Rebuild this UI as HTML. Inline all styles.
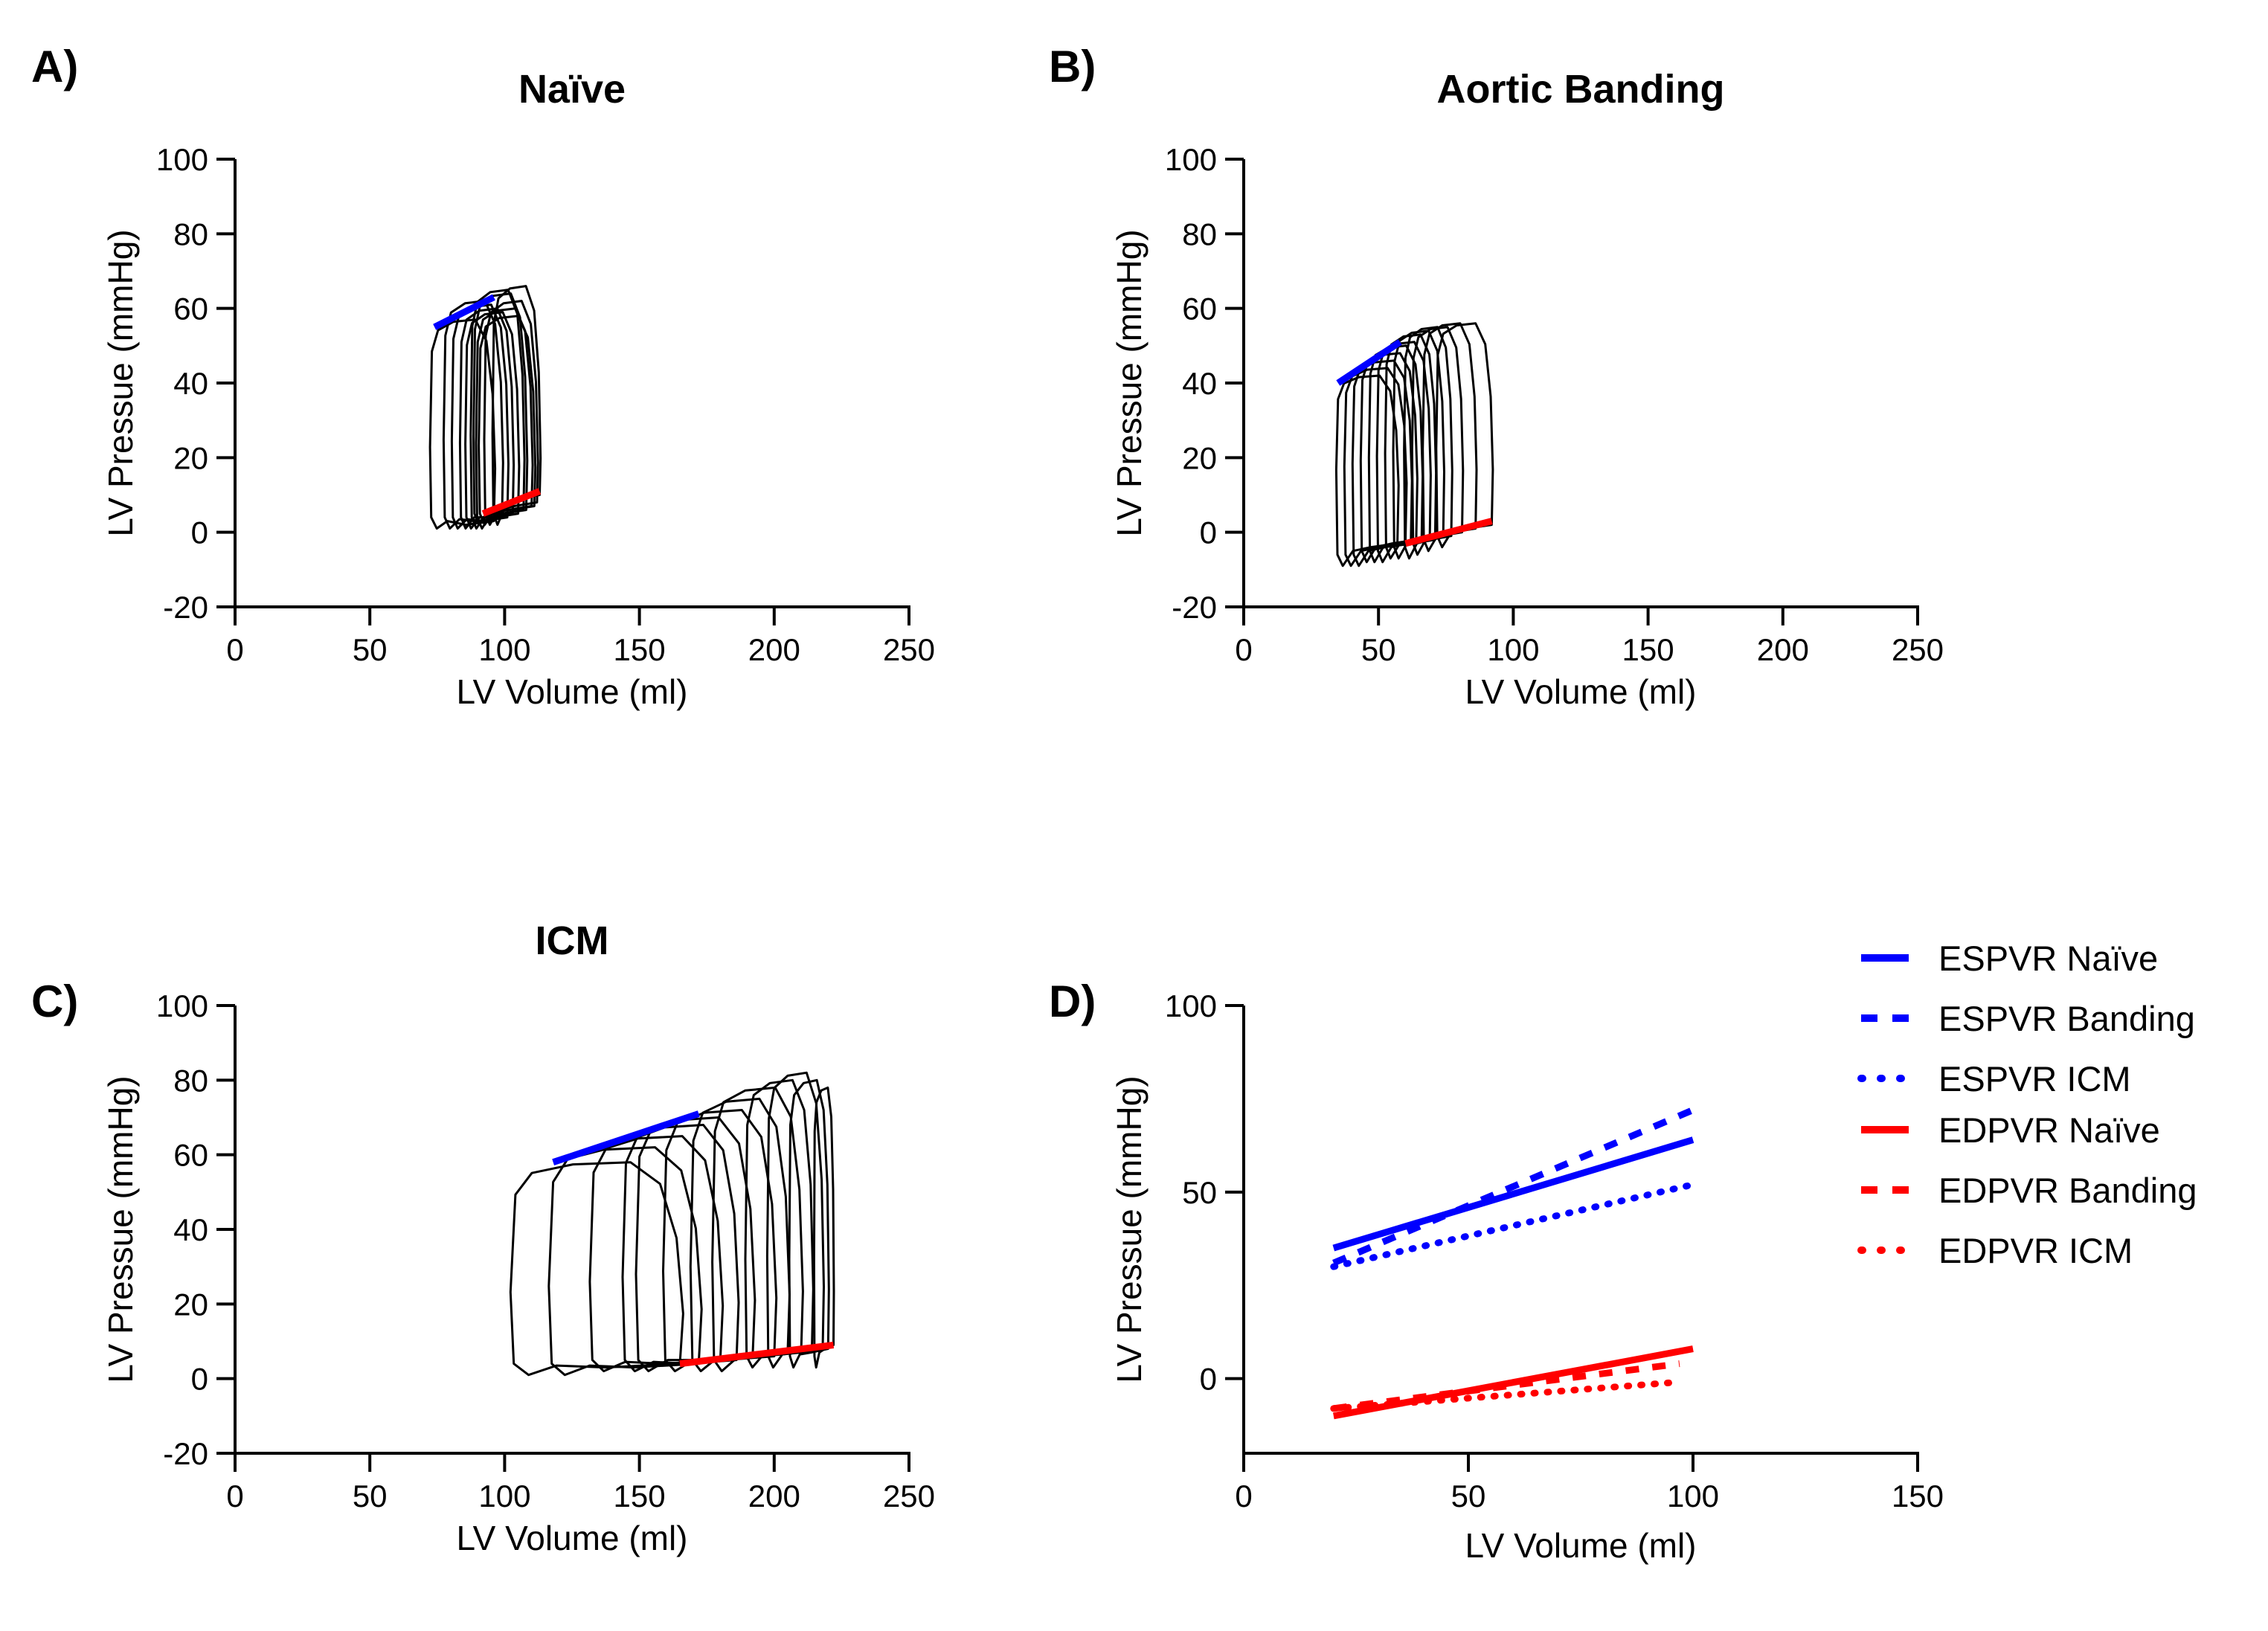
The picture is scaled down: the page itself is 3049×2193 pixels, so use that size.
<!DOCTYPE html>
<html><head><meta charset="utf-8"><style>
html,body{margin:0;padding:0;background:#fff}
svg{display:block;font-family:"Liberation Sans",Arial,sans-serif}
</style></head><body>
<svg id="fig" width="3049" height="2193" viewBox="0 0 3049 2193" xmlns="http://www.w3.org/2000/svg">
<rect width="3049" height="2193" fill="#fff"/>
</svg>
<script>
// ---- Panel A (Naive) loop data ----
const naiveEsv=[73,78,81,84,86,88,89,90,91,93,96];
const naiveEdv=[96,99,101,103,105,107,108,110,111,112,113];
const naivePmax=[57,62,61,60,59,65,64,60,58,62,66];
const naiveEdp=[3,4,4,5,5,6,6,7,7,8,10];
const naivePmin=[1,1,1,1,1,1,2,1,2,2,2];
// ---- Panel B (Banding) ----
const bandEsv=[35,38,41,44,47,50,53,56,60,63,67,72];
const bandEdv=[57,60,62,64,66,69,71,74,77,81,86,92];
const bandPmax=[42,44,46,48,50,51,53,54,55,55,56,56];
const bandEdp=[-3,-3,-3,-2,-2,-2,-2,-1,-1,0,1,2];
const bandPmin=[-9,-9,-9,-8,-8,-8,-7,-7,-7,-6,-5,-4];
// ---- Panel C (ICM) ----
const icmEsv=[104,118,133,145,150,160,170,178,190,198,206,215];
const icmEdv=[165,172,180,186,192,200,205,210,214,218,220,222];
const icmPmax=[58,62,65,68,70,72,75,78,80,82,80,78];
const icmEdp=[4,4,5,5,6,6,7,7,8,8,8,9];
const icmPmin=[1,1,2,2,2,2,2,2,3,3,3,3];
// ---- relation lines [v1,p1,v2,p2] ----
const espvrA=[74,55,96,63], edpvrA=[92,5,113,11];
const espvrB=[35,40,58,51], edpvrB=[60,-3,92,3];
const espvrC=[118,58,172,71], edpvrC=[165,4,222,9];
// ---- Panel D relations ----
const dNames=["ESPVR Naïve","ESPVR Banding","ESPVR ICM","EDPVR Naïve","EDPVR Banding","EDPVR ICM"];
const dV1=[20,20,20,20,20,20];
const dP1=[35,31,30,-10,-8,-8];
const dV2=[100,100,100,100,97,96];
const dP2=[64,72,52,8,4,-1];
const dColors=["#0000ff","#0000ff","#0000ff","#ff0000","#ff0000","#ff0000"];
const dDash=["","18,18","2,16","","18,18","2,16"];
const xTicksA=[0,50,100,150,200,250];
const yTicksA=[-20,0,20,40,60,80,100];
const xTicksD=[0,50,100,150];
const yTicksD=[0,50,100];

const NS="http://www.w3.org/2000/svg";
const svg=document.getElementById('fig');
function el(tag,attrs,parent,text){const e=document.createElementNS(NS,tag);for(const k in attrs)e.setAttribute(k,attrs[k]);if(text!==undefined)e.textContent=text;(parent||svg).appendChild(e);return e;}

function makePanel(p){
  const g=el('g',{});
  
  
  const sx=v=>p.x0+(v-p.xmin)/(p.xmax-p.xmin)*(p.x1-p.x0);
  const sy=v=>p.yb+(v-p.ymin)/(p.ymax-p.ymin)*(p.yt-p.yb);
  const yax=el('line',{x1:p.x0,y1:p.yt,x2:p.x0,y2:p.yb+2,stroke:'#000','stroke-width':4},g);
  
  
  const xax=el('line',{x1:p.x0-2,y1:p.yb,x2:p.x1+2,y2:p.yb,stroke:'#000','stroke-width':4},g);
  
  
  p.yTicks.forEach(t=>{
    el('line',{x1:p.x0-25,y1:sy(t),x2:p.x0,y2:sy(t),stroke:'#000','stroke-width':4},g);
    const tl=el('text',{x:p.x0-36,y:sy(t)+15,'font-size':42,'text-anchor':'end'},g,String(t));
    
    
  });
  p.xTicks.forEach(t=>{
    el('line',{x1:sx(t),y1:p.yb,x2:sx(t),y2:p.yb+25,stroke:'#000','stroke-width':4},g);
    const tl=el('text',{x:sx(t),y:p.yb+72,'font-size':42,'text-anchor':'middle'},g,String(t));
    
    
  });
  const xt=el('text',{x:(p.x0+p.x1)/2,y:p.xtY,'font-size':46,'text-anchor':'middle'},g,'LV Volume (ml)');
  
  
  const cy=(p.yt+p.yb)/2;
  const yt=el('text',{x:0,y:0,'font-size':46,'text-anchor':'middle',transform:`translate(${p.x0-138},${cy}) rotate(-90)`},g,'LV Pressue (mmHg)');
  
  
  if(p.title){const tt=el('text',{x:(p.x0+p.x1)/2,y:p.titleY,'font-size':54,'font-weight':'bold','text-anchor':'middle'},g,p.title);
    
    }
  const lt=el('text',{x:p.letterX,y:p.letterY,'font-size':60,'font-weight':'bold'},g,p.letter);
  
  
  return {g,sx,sy};
}

function loops(ax,esv,edv,pmax,edp,pmin){
  for(let i=0;i<esv.length;i++){
    const a=esv[i],b=edv[i],w=b-a,P=pmax[i];
    const pts=[[a+0.08*w,pmin[i]],[a+0.25*w,(pmin[i]+edp[i])/2+1],[a+0.55*w,edp[i]-1],[b,edp[i]],[b+0.02*w,P*0.3],[b-0.02*w,P*0.65],[b-0.12*w,P*0.9],[b-0.3*w,P],[a+0.35*w,P*0.99],[a+0.1*w,P*0.95],[a,P*0.85],[a-0.03*w,P*0.4],[a-0.01*w,pmin[i]+3],[a+0.08*w,pmin[i]]];
    const d=pts.map((q,k)=>(k?'L':'M')+ax.sx(q[0]).toFixed(1)+','+ax.sy(q[1]).toFixed(1)).join('')+'Z';
    const pe=el('path',{d,fill:'none',stroke:'#000','stroke-width':3,'stroke-linejoin':'round'},ax.g);
    
    
  }
}
function rel(ax,r,color,name){
  const l=el('line',{x1:ax.sx(r[0]),y1:ax.sy(r[1]),x2:ax.sx(r[2]),y2:ax.sy(r[3]),stroke:color,'stroke-width':9},ax.g);
  
  
}
const common={xmin:0,xmax:250,ymin:-20,ymax:100,xTicks:xTicksA,yTicks:yTicksA};
const A=makePanel(Object.assign({name:'panel-a-naive',x0:316,x1:1222,yt:214,yb:816,title:'Naïve',titleY:138,letter:'A)',letterX:42,letterY:110,xtY:946},common));
loops(A,naiveEsv,naiveEdv,naivePmax,naiveEdp,naivePmin);rel(A,espvrA,'#0000ff','espvr-line');rel(A,edpvrA,'#ff0000','edpvr-line');
const B=makePanel(Object.assign({name:'panel-b-banding',x0:1672,x1:2578,yt:214,yb:816,title:'Aortic Banding',titleY:138,letter:'B)',letterX:1410,letterY:110,xtY:946},common));
loops(B,bandEsv,bandEdv,bandPmax,bandEdp,bandPmin);rel(B,espvrB,'#0000ff','espvr-line');rel(B,edpvrB,'#ff0000','edpvr-line');
const C=makePanel(Object.assign({name:'panel-c-icm',x0:316,x1:1222,yt:1352,yb:1954,title:'ICM',titleY:1283,letter:'C)',letterX:42,letterY:1367,xtY:2084},common));
loops(C,icmEsv,icmEdv,icmPmax,icmEdp,icmPmin);rel(C,espvrC,'#0000ff','espvr-line');rel(C,edpvrC,'#ff0000','edpvr-line');
const D=makePanel({name:'panel-d-relations',x0:1672,x1:2578,yt:1352,yb:1954,xmin:0,xmax:150,ymin:-20,ymax:100,xTicks:xTicksD,yTicks:yTicksD,letter:'D)',letterX:1410,letterY:1367,xtY:2094});
for(let i=0;i<dNames.length;i++){
  const a={x1:D.sx(dV1[i]),y1:D.sy(dP1[i]),x2:D.sx(dV2[i]),y2:D.sy(dP2[i]),stroke:dColors[i],'stroke-width':9,'stroke-linecap':dDash[i]==='2,16'?'round':'butt'};
  if(dDash[i])a['stroke-dasharray']=dDash[i];
  const l=el('line',a,D.g);
  
  
  const ly=1288+i*81-(i>=3?12:0);
  const lg=el('g',{});
  
  
  const sa={x1:2502,y1:ly,x2:2566,y2:ly,stroke:dColors[i],'stroke-width':10,'stroke-linecap':dDash[i]==='2,16'?'round':'butt'};
  if(dDash[i])sa['stroke-dasharray']=dDash[i]==='2,16'?'2,24':'22,20';
  el('line',sa,lg);
  el('text',{x:2606,y:ly+17,'font-size':47},lg,dNames[i]);
}
</script>
</body></html>
